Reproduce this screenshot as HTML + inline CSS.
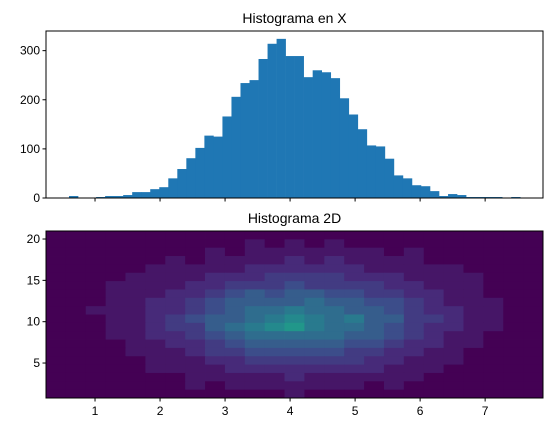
<!DOCTYPE html>
<html><head><meta charset="utf-8"><style>
body{margin:0;background:#fff;font-family:"Liberation Sans",sans-serif}
svg text{font-family:"Liberation Sans",sans-serif;font-size:12px;fill:#000}
svg text.title{font-size:14px}
</style></head><body>
<svg id="c" width="552" height="433"></svg>
<script>
const histCounts=[4,0,0,2,4,4,6,12,12,18,22,40,59,81,102,127,125,166,206,234,240,283,314,324,289,289,246,260,256,244,203,170,140,107,105,80,46,40,26,24,14,4,8,6,2,2,2,2,0,2];
const histStart=0.6, histBinW=0.1388;
const yTicksTop=[0,100,200,300];
const xTicks=[1,2,3,4,5,6,7];
const yTicksBot=[5,10,15,20];
const heat=[
[0,0,0,0,0,0,0,0,0,0,0,0,0,0,0,0,0,0,0,0,0,0,0,0,0],
[0,0,0,0,0,0,0,0,0,0,1,0,1,0,1,0,0,0,0,0,0,0,0,0,0],
[0,0,0,0,0,0,0,0,1,0,1,1,1,1,1,1,1,0,1,0,0,0,0,0,0],
[0,0,0,0,0,0,1,0,1,1,1,1,2,1,2,1,1,1,1,0,0,0,0,0,0],
[0,0,0,0,0,1,1,1,1,1,2,2,2,2,2,2,1,1,1,1,1,0,0,0,0],
[0,0,0,0,1,1,1,1,2,2,2,3,3,3,3,2,2,2,1,1,1,1,0,0,0],
[0,0,0,1,1,1,1,2,2,3,3,3,4,3,3,3,3,2,2,1,1,1,0,0,0],
[0,0,0,1,1,1,2,2,3,4,5,4,5,5,4,4,3,3,2,2,1,1,0,0,0],
[0,0,0,1,1,2,2,3,4,5,5,5,5,6,5,5,4,4,3,2,1,1,1,0,0],
[0,0,1,1,1,2,2,3,4,5,6,6,7,6,6,5,5,4,3,2,2,1,1,0,0],
[0,0,0,1,1,2,3,4,5,5,6,7,8,7,6,7,5,5,3,3,2,1,1,0,0],
[0,0,0,1,1,2,3,3,5,6,7,8,9,7,6,6,5,4,3,2,2,1,1,0,0],
[0,0,0,1,1,2,2,3,4,5,6,6,6,6,6,5,5,4,3,2,1,1,0,0,0],
[0,0,0,0,1,1,2,2,3,4,5,5,5,5,5,4,4,3,2,2,1,1,0,0,0],
[0,0,0,0,1,1,1,2,3,3,4,4,4,4,4,3,3,2,2,1,1,0,0,0,0],
[0,0,0,0,0,1,1,1,2,2,3,3,3,3,3,3,2,2,1,1,1,0,0,0,0],
[0,0,0,0,0,1,1,1,1,2,2,2,2,2,2,2,2,1,1,1,0,0,0,0,0],
[0,0,0,0,0,0,0,1,1,1,1,1,2,1,1,1,1,1,1,0,0,0,0,0,0],
[0,0,0,0,0,0,0,1,0,1,1,1,1,1,1,1,0,1,0,0,0,0,0,0,0],
[0,0,0,0,0,0,0,0,0,0,0,0,1,0,0,0,0,0,0,0,0,0,0,0,0]];
const heatVmax=17;

const NS="http://www.w3.org/2000/svg";
const svg=document.getElementById('c');
function mk(t,a,p){const e=document.createElementNS(NS,t);for(const k in a)e.setAttribute(k,a[k]);(p||svg).appendChild(e);return e;}
const L=46,R=543,X0=0.246,X1=7.89;
const sx=v=>L+(v-X0)/(X1-X0)*(R-L);
const T1=31,B1=198,Y1max=340;
const sy1=v=>B1-v/Y1max*(B1-T1);
const T2=231,B2=398,Y2min=0.77,Y2max=20.97;
const sy2=v=>B2-(v-Y2min)/(Y2max-Y2min)*(B2-T2);

let t=mk('text',{x:(L+R)/2,y:23,'text-anchor':'middle','class':'title'});t.textContent='Histograma en X';


histCounts.forEach((c,i)=>{if(!c)return;const x0=sx(histStart+i*histBinW),x1=sx(histStart+(i+1)*histBinW);
const r=mk('rect',{x:x0,y:sy1(c),width:x1-x0+0.3,height:sy1(0)-sy1(c),fill:'#1f77b4'});

});
const f1=mk('rect',{x:L,y:T1,width:R-L,height:B1-T1,fill:'none',stroke:'#000','stroke-width':1});


yTicksTop.forEach(v=>{const y=sy1(v);mk('line',{x1:L-3.5,x2:L,y1:y,y2:y,stroke:'#000'});
const tx=mk('text',{x:L-6,y:y+4,'text-anchor':'end'});tx.textContent=v;

});
xTicks.forEach(v=>{const x=sx(v);mk('line',{x1:x,x2:x,y1:B1,y2:B1+3.5,stroke:'#000'});});

t=mk('text',{x:(L+R)/2,y:223,'text-anchor':'middle','class':'title'});t.textContent='Histograma 2D';


const vir=[[68,1,84],[72,40,120],[62,73,137],[49,104,142],[38,130,142],[31,158,137],[53,183,121],[110,206,88],[181,222,43],[253,231,37]];
function cmap(f){f=Math.max(0,Math.min(1,f))*(vir.length-1);const i=Math.min(Math.floor(f),vir.length-2),u=f-i;
const c=vir[i].map((a,k)=>Math.round(a+(vir[i+1][k]-a)*u));return `rgb(${c})`;}
const nr=heat.length,nc=heat[0].length,cw=(X1-X0)/nc,rh=(Y2max-Y2min)/nr;
heat.forEach((row,ri)=>row.forEach((v,ci)=>{
const x0=sx(X0+ci*cw),x1=sx(X0+(ci+1)*cw),ytop=sy2(Y2max-ri*rh),ybot=sy2(Y2max-(ri+1)*rh);
const r=mk('rect',{x:x0,y:ytop,width:x1-x0+0.4,height:ybot-ytop+0.4,fill:cmap(v/heatVmax)});

}));
const f2=mk('rect',{x:L,y:T2,width:R-L,height:B2-T2,fill:'none',stroke:'#000','stroke-width':1});


yTicksBot.forEach(v=>{const y=sy2(v);mk('line',{x1:L-3.5,x2:L,y1:y,y2:y,stroke:'#000'});
const tx=mk('text',{x:L-6,y:y+4,'text-anchor':'end'});tx.textContent=v;

});
xTicks.forEach(v=>{const x=sx(v);mk('line',{x1:x,x2:x,y1:B2,y2:B2+3.5,stroke:'#000'});
const tx=mk('text',{x:x,y:B2+17,'text-anchor':'middle'});tx.textContent=v;

});
</script></body></html>
